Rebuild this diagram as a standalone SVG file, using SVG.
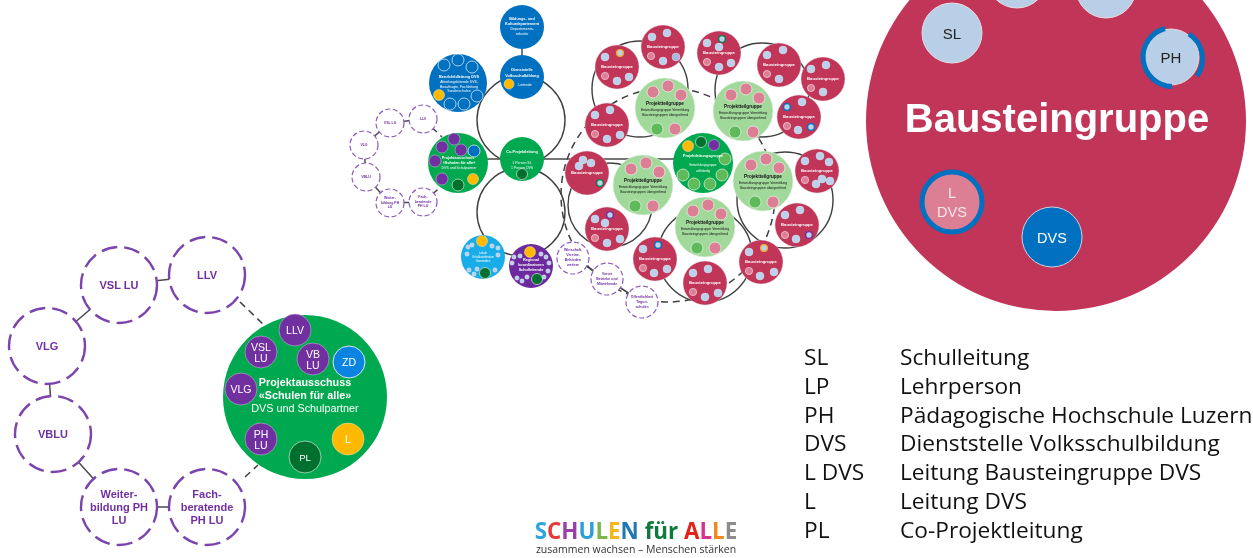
<svg xmlns="http://www.w3.org/2000/svg" width="1253" height="558" viewBox="0 0 1253 558">
<style>
text{font-family:"Liberation Sans",Arial,sans-serif;text-anchor:middle}
.ring{fill:none;stroke:#3f3f3f;stroke-width:1.4}
.line{fill:none;stroke:#4a4a4a;stroke-width:1.5}
.dsh{fill:none;stroke:#3f3f3f;stroke-width:1.5;stroke-dasharray:7 5}
.dc{fill:#fff;stroke:#8a5cc0;stroke-width:1.2;stroke-dasharray:5 2.6}
.dl{fill:#fff;stroke:#7b45ad;stroke-width:2.4;stroke-dasharray:16 7}
.dt{fill:#7030a0;font-weight:bold;font-size:3.5px}
.dlt{fill:#7030a0;font-weight:bold;font-size:11px}
.red{fill:#c03558}
.lg{fill:#a1d99b;stroke:#e6f2e4;stroke-width:.6}
.dg{fill:#00a94f}
.blue{fill:#0070c0}
.s{fill:#bcd2ec;stroke:#e3e6ee;stroke-width:.4}
.m{fill:#bcd2ec;stroke:#e3e6ee;stroke-width:.4;r:4px}
.pk{fill:#dc7f95;stroke:#f0e6ea;stroke-width:.8}
.p{fill:#dc7f95;stroke:#f4e0e6;stroke-width:.7;r:3.6px}
.g{fill:#5fba5a;stroke:#e6f2e4;stroke-width:.7}
.y{fill:#ffb901;stroke:#f3e6c0;stroke-width:.5}
.dk{fill:#00702f;stroke:#d6ead8;stroke-width:.7}
.pu{fill:#7030a0;stroke:#d8c8e8;stroke-width:.5}
.bl{fill:#0070c0;stroke:#dbe8f4;stroke-width:.8}
.tw{fill:#fff;font-size:3.5px}
.tb{fill:#fff;font-size:3.8px;font-weight:bold}
.tr{fill:#fff;font-size:4.2px;font-weight:bold}
.tk{fill:#111;font-size:3.4px}
.tkb{fill:#111;font-size:4.6px;font-weight:bold}
.w{fill:#fff}
.k{fill:#222}
.leg text{font-family:"Open Sans","Liberation Sans",sans-serif;text-anchor:start;font-size:22.7px;fill:#111}
.sv{fill:#fff;font-size:10.5px}
.pt{fill:#fff;font-size:10.8px}
.rg{fill:#bcd2ec;stroke-width:1.4;r:3.4px}
</style>
<defs>
<filter id="soft" x="-2%" y="-2%" width="104%" height="104%" color-interpolation-filters="sRGB"><feGaussianBlur stdDeviation="0.3"/></filter>
<g id="rb">
<circle class="red" r="22" stroke="#e9dde1" stroke-width=".4"/>
<text class="tr" y="1.4">Bausteingruppe</text>
</g>
<g id="lb">
<circle class="lg" r="30"/>
<circle class="pk" cx="-12" cy="-16" r="6"/><circle class="pk" cx="3" cy="-22" r="6"/><circle class="pk" cx="16" cy="-13" r="6"/>
<circle class="g" cx="-8" cy="21" r="6"/><circle class="pk" cx="10" cy="21" r="6"/>
<text class="tkb" y="-3">Projektteilgruppe</text>
<text class="tk" y="2.5">Entwicklungsgruppe Vermittlung</text>
<text class="tk" y="7.5">Bausteingruppen übergreifend</text>
</g>
</defs>

<g id="connectors">
<g filter="url(#soft)">
<circle class="ring" cx="521" cy="120" r="44"/>
<circle class="ring" cx="521" cy="212" r="44"/>
<path class="line" d="M522 27V77M458 159H703"/>
<circle class="dsh" cx="668" cy="195" r="107"/>
<circle class="ring" cx="640" cy="89" r="48"/>
<circle class="ring" cx="762" cy="90" r="47"/>
<circle class="ring" cx="610" cy="205" r="42"/>
<circle class="ring" cx="705" cy="255" r="47"/>
<circle class="ring" cx="785" cy="200" r="48"/>
<path class="line" d="M423 119L390 123L364 145L366 177L390 203L423 202M573 258L607 279L642 302"/>
<path class="dsh" stroke-dasharray="4 3" d="M423 119L442 137M423 202L442 186"/>
</g>
<path class="line" d="M207 275L119 285L47 346L53 434L119 507L207 507"/>
<path class="dsh" d="M240 302L263 324M245 477L258 465"/>
</g>

<g id="mid" filter="url(#soft)">
<g id="n-bildung"><circle class="blue" cx="522" cy="27" r="22"/>
<text class="tb" x="522" y="20">Bildungs- und</text><text class="tb" x="522" y="25">Kulturdepartement</text><text class="tw" x="522" y="30">Departements-</text><text class="tw" x="522" y="35">sekretär</text></g>
<g id="n-dienst"><circle class="blue" cx="522" cy="77" r="22"/>
<text class="tb" x="522" y="71">Dienststelle</text><text class="tb" x="522" y="76.5">Volksschulbildung</text>
<circle class="y" cx="509" cy="84" r="5"/><text class="tw" x="525" y="85.5">Leitende</text></g>
<g id="n-beruf"><circle class="blue" cx="458" cy="83" r="29"/>
<circle class="bl" cx="444" cy="65" r="6"/><circle class="bl" cx="458" cy="60" r="6"/><circle class="bl" cx="472" cy="67" r="6"/><circle class="bl" cx="477" cy="96" r="6"/><circle class="bl" cx="464" cy="104" r="6"/><circle class="bl" cx="450" cy="104" r="6"/><circle class="y" cx="439" cy="95" r="5.5"/>
<text class="tb" x="459" y="78">Berufsfeldleitung DVS</text><text class="tw" x="459" y="83">Abteilungsleitende DVS,</text><text class="tw" x="459" y="87.5">Beauftragte, Fachleitung</text><text class="tw" x="459" y="92">Sonderschulen</text></g>
<g id="n-co"><circle class="dg" cx="522" cy="159" r="22"/>
<text class="tb" x="522" y="153">Co-Projektleitung</text><text class="tw" x="522" y="164">1 Person SL</text><text class="tw" x="522" y="169">1 Person DVS</text>
<circle class="dk" cx="522" cy="174" r="5.5"/></g>
<g id="n-pa"><circle class="dg" cx="458" cy="163" r="30"/>
<circle class="pu" cx="454" cy="139" r="6"/><circle class="pu" cx="442" cy="147" r="6"/><circle class="pu" cx="461" cy="150" r="6"/><circle class="bl" cx="474" cy="151" r="6"/><circle class="pu" cx="435" cy="161" r="6"/><circle class="pu" cx="442" cy="179" r="6"/><circle class="y" cx="473" cy="179" r="5.5"/><circle class="dk" cx="458" cy="185" r="6"/>
<text class="tb" x="458" y="159">Projektausschuss</text><text class="tb" x="459" y="164">«Schulen für alle»</text><text class="tw" x="459" y="169">DVS und Schulpartner</text></g>
<g id="n-lb"><circle fill="#18ade8" cx="483" cy="257" r="22"/>
<circle class="y" cx="482" cy="241" r="5.5"/><circle class="dk" cx="485" cy="273" r="5.5"/>
<g class="s"><circle cx="468" cy="247" r="2.2"/><circle cx="472" cy="245" r="2.2"/><circle cx="492" cy="246" r="2.2"/><circle cx="498" cy="248" r="2.2"/><circle cx="467" cy="254" r="2.2"/><circle cx="498" cy="255" r="2.2"/><circle cx="469" cy="270" r="2.2"/><circle cx="477" cy="269" r="2.2"/><circle cx="474" cy="274" r="2.2"/><circle cx="495" cy="270" r="2.2"/></g>
<text class="tw" style="font-size:2.8px" x="483" y="254">Lokale</text><text class="tw" style="font-size:2.8px" x="483" y="258">Schulkoordination</text><text class="tw" style="font-size:2.8px" x="483" y="262">Gemeinden</text></g>
<g id="n-pu"><circle fill="#6d2a9e" cx="531" cy="266" r="22"/>
<circle class="y" cx="530" cy="252" r="5.5"/><circle class="dk" cx="537" cy="279" r="5.5"/>
<g class="s"><circle cx="514" cy="257" r="2.2"/><circle cx="520" cy="256" r="2.2"/><circle cx="512" cy="263" r="2.2"/><circle cx="541" cy="254" r="2.2"/><circle cx="546" cy="257" r="2.2"/><circle cx="549" cy="263" r="2.2"/><circle cx="548" cy="271" r="2.2"/><circle cx="517" cy="278" r="2.2"/><circle cx="522" cy="281" r="2.2"/><circle cx="527" cy="277" r="2.2"/><circle cx="544" cy="277" r="2.2"/></g>
<text class="tb" x="531" y="261">Regional</text><text class="tb" x="531" y="266">koordinatoren</text><text class="tb" x="531" y="271">Schulleitende</text></g>

<g id="d-llv"><circle class="dc" cx="423" cy="119" r="14"/><text class="dt" x="423" y="120">LLV</text></g>
<g id="d-vsl"><circle class="dc" cx="390" cy="123" r="14"/><text class="dt" x="390" y="124">VSL LU</text></g>
<g id="d-vlg"><circle class="dc" cx="364" cy="145" r="14"/><text class="dt" x="364" y="146">VLG</text></g>
<g id="d-vb"><circle class="dc" cx="366" cy="177" r="14"/><text class="dt" x="366" y="178">VBLU</text></g>
<g id="d-wb"><circle class="dc" cx="390" cy="203" r="14"/><text class="dt" x="390" y="199">Weiter-</text><text class="dt" x="390" y="203.5">bildung PH</text><text class="dt" x="390" y="208">LU</text></g>
<g id="d-fb"><circle class="dc" cx="423" cy="202" r="14"/><text class="dt" x="423" y="198">Fach-</text><text class="dt" x="423" y="202.5">beratende</text><text class="dt" x="423" y="207">PH LU</text></g>
<g id="d-w1"><circle class="dc" cx="573" cy="258" r="16"/><text class="dt" x="573" y="251">Wirtschaft,</text><text class="dt" x="573" y="256">Vereine,</text><text class="dt" x="573" y="261">Behörden</text><text class="dt" x="573" y="266">weitere</text></g>
<g id="d-w2"><circle class="dc" cx="607" cy="279" r="16"/><text class="dt" x="607" y="275">Vorort</text><text class="dt" x="607" y="280">Betriebe und</text><text class="dt" x="607" y="285">Mitwirkende</text></g>
<g id="d-w3"><circle class="dc" cx="642" cy="302" r="16"/><text class="dt" x="642" y="298">Öffentlichkeit</text><text class="dt" x="642" y="303">Tagun-</text><text class="dt" x="642" y="308">schulen</text></g>

<g id="r1" transform="translate(617 67)"><use href="#rb"/><circle class="p" cx="-12" cy="9"/><circle class="m" cx="-12" cy="-10"/><circle class="m" cx="0" cy="14"/><circle class="m" cx="12" cy="10"/><circle class="rg" cx="3" cy="-14" stroke="#f0a92c"/></g>
<g id="r2" transform="translate(663 47)"><use href="#rb"/><circle class="p" cx="-12" cy="9"/><circle class="m" cx="-11" cy="-10"/><circle class="m" cx="4" cy="-14"/><circle class="m" cx="0" cy="14"/><circle class="m" cx="13" cy="10" style="fill:#a9b8dc"/></g>
<g id="r3" transform="translate(719 53)"><use href="#rb"/><circle class="p" cx="-12" cy="9"/><circle class="m" cx="-12" cy="-10"/><circle class="m" cx="0" cy="-6"/><circle class="m" cx="0" cy="14"/><circle class="m" cx="12" cy="10"/><circle class="rg" cx="3" cy="-14" stroke="#0a7d45"/></g>
<g id="r4" transform="translate(779 65)"><use href="#rb"/><circle class="p" cx="-12" cy="9"/><circle class="m" cx="-12" cy="-10"/><circle class="m" cx="4" cy="-15"/><circle class="m" cx="0" cy="14"/></g>
<g id="r5" transform="translate(823 79)"><use href="#rb"/><circle class="p" cx="-12" cy="9"/><circle class="m" cx="-12" cy="-10"/><circle class="m" cx="3" cy="-14"/><circle class="m" cx="0" cy="13"/></g>
<g id="r6" transform="translate(799 117)"><use href="#rb"/><circle class="p" cx="-12" cy="9"/><circle class="rg" cx="-12" cy="-10" stroke="#0070c0"/><circle class="m" cx="3" cy="-15"/><circle class="m" cx="-1" cy="13"/><circle class="rg" cx="12" cy="10" stroke="#0070c0"/></g>
<g id="r7" transform="translate(607 125)"><use href="#rb"/><circle class="p" cx="-12" cy="9"/><circle class="m" cx="-12" cy="-10"/><circle class="m" cx="3" cy="-15"/><circle class="m" cx="0" cy="14"/><circle class="m" cx="13" cy="10"/></g>
<g id="r8" transform="translate(587 173)"><use href="#rb"/><circle class="m" cx="-8" cy="-7"/><circle class="m" cx="-4" cy="-13"/><circle class="m" cx="4" cy="-10"/><circle class="rg" cx="13" cy="10" stroke="#0a7d45"/></g>
<g id="r9" transform="translate(607 229)"><use href="#rb"/><circle class="p" cx="-12" cy="9"/><circle class="m" cx="-12" cy="-10"/><circle class="m" cx="-2" cy="-6"/><circle class="m" cx="0" cy="14"/><circle class="m" cx="13" cy="10"/><circle class="rg" cx="3" cy="-14" stroke="#7030a0"/></g>
<g id="r10" transform="translate(655 259)"><use href="#rb"/><circle class="p" cx="-12" cy="9"/><circle class="m" cx="-12" cy="-10"/><circle class="m" cx="-1" cy="14"/><circle class="m" cx="12" cy="10"/><circle class="rg" cx="3" cy="-14" stroke="#0070c0"/></g>
<g id="r11" transform="translate(705 283)"><use href="#rb"/><circle class="p" cx="-12" cy="9"/><circle class="m" cx="-12" cy="-10"/><circle class="m" cx="3" cy="-14"/><circle class="m" cx="0" cy="14"/><circle class="m" cx="13" cy="10"/></g>
<g id="r12" transform="translate(761 262)"><use href="#rb"/><circle class="p" cx="-12" cy="9"/><circle class="m" cx="-12" cy="-10"/><circle class="m" cx="-1" cy="14"/><circle class="m" cx="13" cy="10"/><circle class="rg" cx="3" cy="-14" stroke="#f0a92c"/></g>
<g id="r13" transform="translate(797 225)"><use href="#rb"/><circle class="p" cx="-12" cy="10"/><circle class="m" cx="-12" cy="-10"/><circle class="m" cx="3" cy="-15"/><circle class="m" cx="-1" cy="14"/><circle class="rg" cx="12" cy="10" stroke="#7030a0"/></g>
<g id="r14" transform="translate(817 171)"><use href="#rb"/><circle class="p" cx="-12" cy="9"/><circle class="m" cx="-12" cy="-10"/><circle class="m" cx="3" cy="-15"/><circle class="m" cx="12" cy="-9"/><circle class="m" cx="-1" cy="13"/><circle class="m" cx="5" cy="8"/><circle class="m" cx="13" cy="10"/></g>

<g id="t1" transform="translate(665 108)"><use href="#lb"/></g>
<g id="t2" transform="translate(743 111)"><use href="#lb"/></g>
<g id="t3" transform="translate(643 185)"><use href="#lb"/></g>
<g id="t4" transform="translate(705 227)"><use href="#lb"/></g>
<g id="t5" transform="translate(763 181)"><use href="#lb"/></g>
<g id="t-main"><circle class="dg" cx="703" cy="163" r="30"/>
<circle class="y" cx="688" cy="146" r="5.5"/><circle class="dk" cx="701" cy="142" r="5.5"/><circle class="pu" cx="714" cy="145" r="5.5"/>
<circle class="g" cx="725" cy="159" r="6"/><circle class="g" cx="683" cy="175" r="6"/><circle class="g" cx="694" cy="184" r="6"/><circle class="g" cx="710" cy="184" r="6"/><circle class="g" cx="722" cy="175" r="6"/>
<text class="tb" x="703" y="157">Projektleitungsgruppe</text><text class="tw" x="703" y="166" style="font-size:3px">Entwicklungsgruppe</text><text class="tw" x="703" y="171.5" style="font-size:3px">vollständig</text></g>
</g>

<g id="big">
<circle class="red" cx="1056" cy="121" r="190"/>
<g id="b-a"><circle cx="1017" cy="-22" r="30" fill="#b9cfe8" stroke="#e8dbe0"/></g>
<g id="b-b"><circle cx="1106" cy="-12" r="30" fill="#b9cfe8" stroke="#e8dbe0"/></g>
<g id="b-sl"><circle cx="952" cy="33" r="30" fill="#b9cfe8" stroke="#e8dbe0"/><text class="k" x="952" y="39" style="font-size:15px">SL</text></g>
<g id="b-ph"><circle cx="1171" cy="57" r="28" fill="#b9cfe8" stroke="#e8dbe0"/>
<path fill="none" stroke="#0070c0" stroke-width="5" d="M1165 28.5A29.5 29.5 0 0 0 1172 86.5"/><path fill="none" stroke="#0070c0" stroke-width="5" d="M1189 34A29.5 29.5 0 0 1 1197 76"/>
<text class="k" x="1171" y="62.5" style="font-size:15px">PH</text></g>
<text class="w" x="1057" y="132" font-weight="bold" style="font-size:40px">Bausteingruppe</text>
<g id="b-ldvs"><circle cx="952" cy="202" r="30" fill="#dc7f95" stroke="#0070c0" stroke-width="5"/><text x="952" y="198" style="font-size:14.5px;fill:#f6e6ea">L</text><text x="952" y="217" style="font-size:14.5px;fill:#f6e6ea">DVS</text></g>
<g id="b-dvs"><circle cx="1052" cy="237" r="30" fill="#0070c0" stroke="#c9d4e4"/><text class="w" x="1052" y="242.5" style="font-size:14.5px">DVS</text></g>
</g>

<g id="pa">
<circle class="dg" cx="305" cy="397" r="82"/>
<g id="pa-llv"><circle class="pu" cx="295" cy="330" r="16"/><text class="sv" x="295" y="334">LLV</text></g>
<g id="pa-vsl"><circle class="pu" cx="261" cy="352" r="16"/><text class="sv" x="261" y="351">VSL</text><text class="sv" x="261" y="362">LU</text></g>
<g id="pa-vb"><circle class="pu" cx="313" cy="359" r="16"/><text class="sv" x="313" y="358">VB</text><text class="sv" x="313" y="369">LU</text></g>
<g id="pa-zd"><circle cx="349" cy="362" r="16" fill="#0a84e0" stroke="#d6e6f4"/><text class="sv" x="349" y="366">ZD</text></g>
<g id="pa-vlg"><circle class="pu" cx="241" cy="389" r="16"/><text class="sv" x="241" y="393">VLG</text></g>
<g id="pa-ph"><circle class="pu" cx="261" cy="439" r="16"/><text class="sv" x="261" y="438">PH</text><text class="sv" x="261" y="449">LU</text></g>
<g id="pa-pl"><circle class="dk" cx="305" cy="457" r="16"/><text class="sv" x="305" y="460.5" style="font-size:9.5px">PL</text></g>
<g id="pa-l"><circle class="y" cx="348" cy="439" r="16"/><text class="sv" x="348" y="443">L</text></g>
<text class="pt" x="305" y="386" font-weight="bold">Projektausschuss</text>
<text class="pt" x="305" y="399" font-weight="bold">«Schulen für alle»</text>
<text class="pt" x="305" y="412">DVS und Schulpartner</text>
</g>

<g id="dl-llv"><circle class="dl" cx="207" cy="275" r="38"/><text class="dlt" x="207" y="279">LLV</text></g>
<g id="dl-vsl"><circle class="dl" cx="119" cy="285" r="38"/><text class="dlt" x="119" y="289">VSL LU</text></g>
<g id="dl-vlg"><circle class="dl" cx="47" cy="346" r="38"/><text class="dlt" x="47" y="350">VLG</text></g>
<g id="dl-vb"><circle class="dl" cx="53" cy="434" r="38"/><text class="dlt" x="53" y="438">VBLU</text></g>
<g id="dl-wb"><circle class="dl" cx="119" cy="507" r="38"/><text class="dlt" x="119" y="498">Weiter-</text><text class="dlt" x="119" y="511">bildung PH</text><text class="dlt" x="119" y="524">LU</text></g>
<g id="dl-fb"><circle class="dl" cx="207" cy="507" r="38"/><text class="dlt" x="207" y="498">Fach-</text><text class="dlt" x="207" y="511">beratende</text><text class="dlt" x="207" y="524">PH LU</text></g>

<g id="legend" class="leg">
<text x="804" y="365">SL</text><text x="900" y="365">Schulleitung</text>
<text x="804" y="394">LP</text><text x="900" y="394">Lehrperson</text>
<text x="804" y="423">PH</text><text x="900" y="423">Pädagogische Hochschule Luzern</text>
<text x="804" y="451">DVS</text><text x="900" y="451">Dienststelle Volksschulbildung</text>
<text x="804" y="480">L DVS</text><text x="900" y="480">Leitung Bausteingruppe DVS</text>
<text x="804" y="509">L</text><text x="900" y="509">Leitung DVS</text>
<text x="804" y="538">PL</text><text x="900" y="538">Co-Projektleitung</text>
</g>

<g id="logo">
<text x="636" y="539" font-weight="bold" style="font-family:'Open Sans','Liberation Sans',sans-serif;font-size:22.4px"><tspan fill="#2ea7e0">S</tspan><tspan fill="#e53b3b">C</tspan><tspan fill="#9b3fa8">H</tspan><tspan fill="#2b9fd8">U</tspan><tspan fill="#7ab648">L</tspan><tspan fill="#f3b61b">E</tspan><tspan fill="#1f78b4">N</tspan><tspan fill="#0f7a3d"> für </tspan><tspan fill="#e2231a">A</tspan><tspan fill="#d6338c">L</tspan><tspan fill="#f08a1d">L</tspan><tspan fill="#8c8c8c">E</tspan></text>
<text x="636" y="553" style="font-family:'Open Sans','Liberation Sans',sans-serif;font-size:10.5px" fill="#333">zusammen wachsen – Menschen stärken</text>
</g>
</svg>
